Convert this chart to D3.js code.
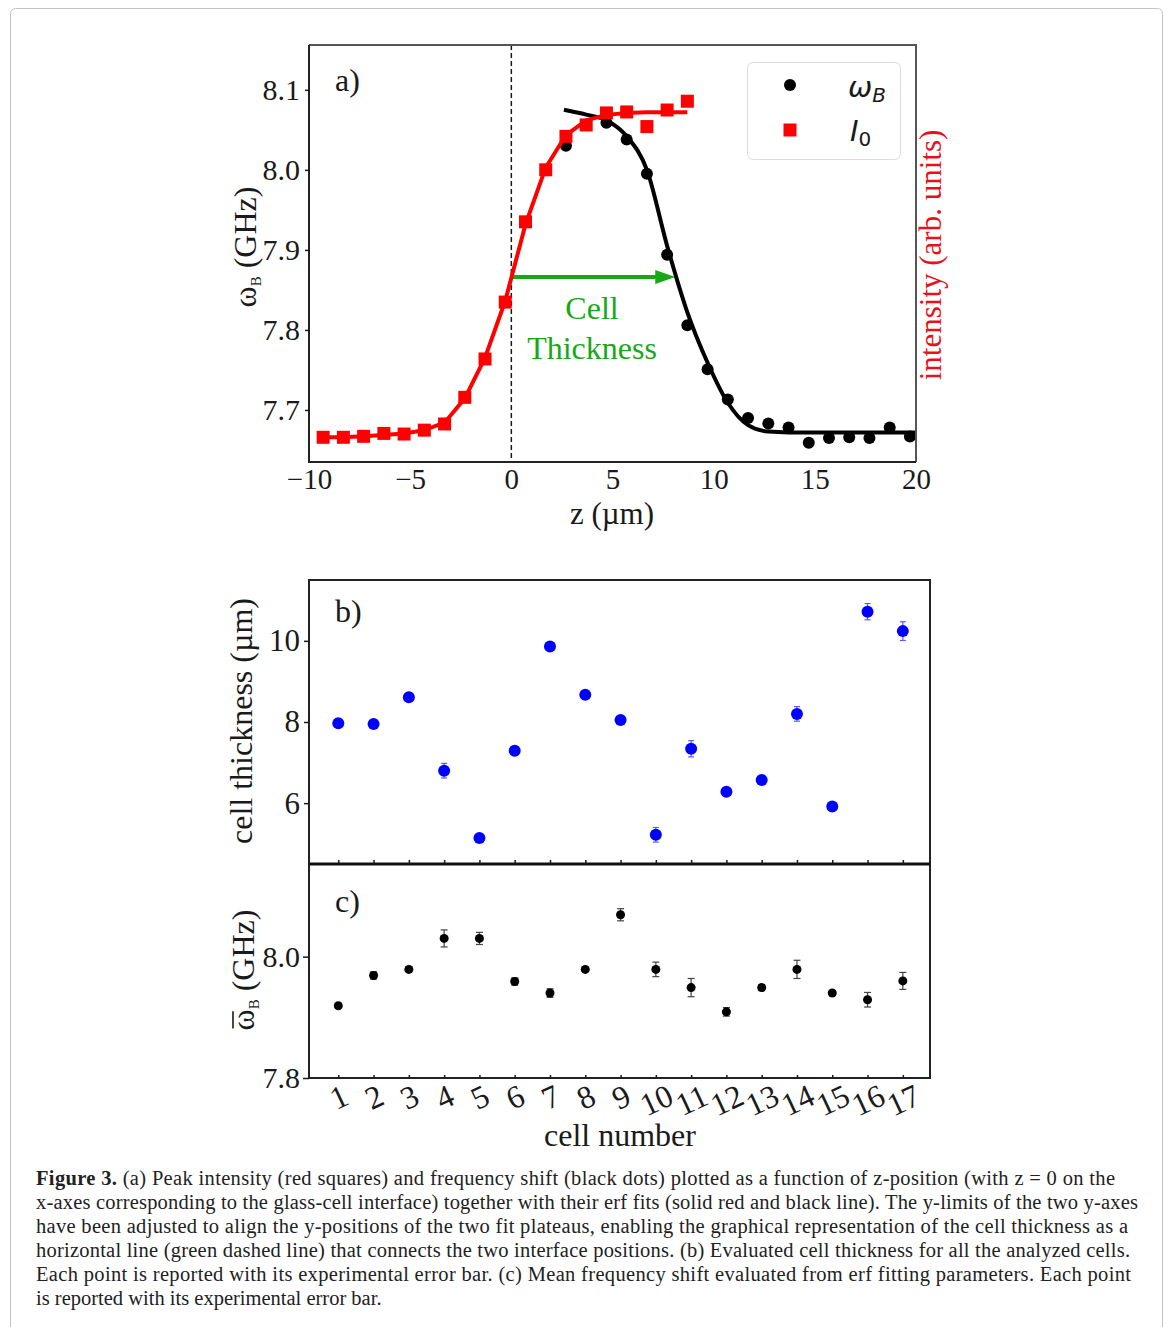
<!DOCTYPE html>
<html>
<head>
<meta charset="utf-8">
<script src="https://cdn.jsdelivr.net/npm/d3@7"></script>
<style>
body { margin: 0; background: #fff; }
svg { display: block; }
</style>
</head>
<body>
<div id="fig"></div>
<script>

// panel a: peak intensity (normalised, arb. units) vs z
var zIntensity = [-9.3, -8.3, -7.3, -6.3, -5.3, -4.3, -3.3, -2.3, -1.3, -0.3, 0.7, 1.7, 2.7, 3.7, 4.7, 5.7, 6.7, 7.7, 8.7];
var intensity = [0.0, 0.0, 0.003, 0.012, 0.01, 0.022, 0.041, 0.123, 0.241, 0.416, 0.663, 0.823, 0.926, 0.961, 0.998, 1.001, 0.956, 1.007, 1.034];
var intensityFit = [0.0, 0.0, 0.003, 0.007, 0.012, 0.022, 0.045, 0.12, 0.245, 0.42, 0.655, 0.83, 0.93, 0.975, 0.992, 0.998, 1.0, 1.0, 1.0];

// panel a: Brillouin shift vs z
var zOmega = [2.7, 4.7, 5.7, 6.7, 7.7, 8.7, 9.7, 10.7, 11.7, 12.7, 13.7, 14.7, 15.7, 16.7, 17.7, 18.7, 19.7];
var omegaB = [8.03, 8.059, 8.038, 7.995, 7.894, 7.806, 7.751, 7.713, 7.690, 7.683, 7.678, 7.659, 7.665, 7.666, 7.665, 7.678, 7.667];
var zOmegaFit = [2.6, 3.7, 4.7, 5.7, 6.7, 7.7, 8.7, 9.7, 10.7, 11.7, 12.7, 13.7, 15, 17, 20];
var omegaFit = [8.075, 8.069, 8.062, 8.042, 8.0, 7.905, 7.822, 7.759, 7.709, 7.681, 7.673, 7.672, 7.672, 7.672, 7.672];

// cell thickness arrow (from interface at z = 0 to second interface)
var thicknessArrow = {from: 0, to: 8.1, level: 7.866};

// panels b and c
var cells = [1, 2, 3, 4, 5, 6, 7, 8, 9, 10, 11, 12, 13, 14, 15, 16, 17];
var thickness = [7.97, 7.95, 8.61, 6.80, 5.14, 7.29, 9.86, 8.67, 8.05, 5.22, 7.34, 6.28, 6.57, 8.20, 5.92, 10.72, 10.24];
var thicknessErr = [0.08, 0.06, 0.08, 0.18, 0.08, 0.08, 0.1, 0.08, 0.08, 0.18, 0.2, 0.06, 0.08, 0.18, 0.06, 0.2, 0.23];
var meanOmega = [7.919, 7.969, 7.979, 8.030, 8.030, 7.959, 7.940, 7.979, 8.069, 7.979, 7.949, 7.909, 7.949, 7.979, 7.940, 7.929, 7.960];
var meanOmegaErr = [0.003, 0.006, 0.004, 0.014, 0.01, 0.006, 0.007, 0.003, 0.01, 0.012, 0.015, 0.007, 0.005, 0.015, 0.003, 0.012, 0.014];

var zTicks = [-10, -5, 0, 5, 10, 15, 20];
var omegaTicks = [7.7, 7.8, 7.9, 8.0, 8.1];
var thicknessTicks = [6, 8, 10];
var meanOmegaTicks = [7.8, 8.0];

var captionLines = [
	' (a) Peak intensity (red squares) and frequency shift (black dots) plotted as a function of z-position (with z = 0 on the',
	'x-axes corresponding to the glass-cell interface) together with their erf fits (solid red and black line). The y-limits of the two y-axes',
	'have been adjusted to align the y-positions of the two fit plateaus, enabling the graphical representation of the cell thickness as a',
	'horizontal line (green dashed line) that connects the two interface positions. (b) Evaluated cell thickness for all the analyzed cells.',
	'Each point is reported with its experimental error bar. (c) Mean frequency shift evaluated from erf fitting parameters. Each point',
	'is reported with its experimental error bar.'
];
var captionWidths = [1079, 1102, 1092, 1094, 1095, null];

var SERIF = '"Liberation Serif", "Times New Roman", serif',
	INK = '#1a1a1a',
	RED = '#ff0000',
	GREEN = '#17a817',
	BLUE = '#0000ff';

var svg = d3.select('#fig').append('svg')
	.attr('width', 1168)
	.attr('height', 1327);

svg.append('rect')
	.attr('width', 1168)
	.attr('height', 1327)
	.attr('fill', '#fff');

svg.append('rect')
	.attr('x', 10.5)
	.attr('y', 8.5)
	.attr('width', 1152)
	.attr('height', 1340)
	.attr('rx', 5)
	.attr('fill', 'none')
	.attr('stroke', '#c4c4c4');

function styleAxis(g, size) {
	g.select('.domain').remove();
	g.attr('font-family', SERIF)
		.attr('font-size', size);
	g.selectAll('text').attr('fill', INK);
	g.selectAll('line').attr('stroke', INK).attr('stroke-width', 1.5);
}

/* ---------- panel a ---------- */

var xA = d3.scaleLinear().domain([-10, 20]).range([309, 916]);
var yA = d3.scaleLinear().domain([7.635, 8.156]).range([462, 45]);
var yI = d3.scaleLinear().domain([-0.076, 1.207]).range([462, 45]);

var pa = svg.append('g');

pa.append('line')
	.attr('x1', xA(0)).attr('x2', xA(0))
	.attr('y1', 45).attr('y2', 462)
	.attr('stroke', INK)
	.attr('stroke-width', 1.5)
	.attr('stroke-dasharray', '5,3');

// green arrow
pa.append('line')
	.attr('x1', xA(thicknessArrow.from))
	.attr('x2', xA(thicknessArrow.to) - 16)
	.attr('y1', yA(thicknessArrow.level))
	.attr('y2', yA(thicknessArrow.level))
	.attr('stroke', GREEN)
	.attr('stroke-width', 4);
var tipX = xA(thicknessArrow.to), tipY = yA(thicknessArrow.level);
pa.append('path')
	.attr('d', 'M' + tipX + ',' + tipY + 'L' + (tipX - 20) + ',' + (tipY - 7) + 'L' + (tipX - 20) + ',' + (tipY + 7) + 'Z')
	.attr('fill', GREEN);

pa.append('text')
	.attr('x', 592).attr('y', 319)
	.attr('text-anchor', 'middle')
	.attr('font-family', SERIF)
	.attr('font-size', 32)
	.attr('fill', GREEN)
	.text('Cell');
pa.append('text')
	.attr('x', 592).attr('y', 359)
	.attr('text-anchor', 'middle')
	.attr('font-family', SERIF)
	.attr('font-size', 32)
	.attr('fill', GREEN)
	.text('Thickness');

// black fit and dots
var omegaFitData = zOmegaFit.map(function(z, i) { return [z, omegaFit[i]]; });
pa.append('path')
	.datum(omegaFitData)
	.attr('d', d3.line()
		.x(function(d) { return xA(d[0]); })
		.y(function(d) { return yA(d[1]); })
		.curve(d3.curveMonotoneX))
	.attr('fill', 'none')
	.attr('stroke', '#000')
	.attr('stroke-width', 4);

pa.selectAll('circle.omega')
	.data(zOmega.map(function(z, i) { return [z, omegaB[i]]; }))
	.enter()
	.append('circle')
	.classed('omega', true)
	.attr('cx', function(d) { return xA(d[0]); })
	.attr('cy', function(d) { return yA(d[1]); })
	.attr('r', 6)
	.attr('fill', '#000');

// red fit and squares
var intensityFitData = zIntensity.map(function(z, i) { return [z, intensityFit[i]]; });
pa.append('path')
	.datum(intensityFitData)
	.attr('d', d3.line()
		.x(function(d) { return xA(d[0]); })
		.y(function(d) { return yI(d[1]); }))
	.attr('fill', 'none')
	.attr('stroke', RED)
	.attr('stroke-width', 4);

pa.selectAll('rect.intensity')
	.data(zIntensity.map(function(z, i) { return [z, intensity[i]]; }))
	.enter()
	.append('rect')
	.classed('intensity', true)
	.attr('x', function(d) { return xA(d[0]) - 6.5; })
	.attr('y', function(d) { return yI(d[1]) - 6.5; })
	.attr('width', 13)
	.attr('height', 13)
	.attr('fill', RED);

// frame
pa.append('path')
	.attr('d', 'M309,45H916V462')
	.attr('fill', 'none')
	.attr('stroke', '#555')
	.attr('stroke-width', 2);
pa.append('path')
	.attr('d', 'M309,45V462H916')
	.attr('fill', 'none')
	.attr('stroke', '#222')
	.attr('stroke-width', 2);

pa.append('g')
	.attr('transform', 'translate(309,0)')
	.call(d3.axisLeft(yA).tickValues(omegaTicks).tickFormat(d3.format('.1f')).tickSize(4).tickPadding(5))
	.call(styleAxis, 30);

pa.append('g')
	.attr('transform', 'translate(0,462)')
	.call(d3.axisBottom(xA).tickValues(zTicks).tickFormat(d3.format('d')).tickSize(0).tickPadding(6))
	.call(styleAxis, 29);

pa.append('text')
	.attr('x', 335).attr('y', 91)
	.attr('font-family', SERIF)
	.attr('font-size', 32)
	.attr('fill', INK)
	.text('a)');

pa.append('text')
	.attr('x', 612).attr('y', 524)
	.attr('text-anchor', 'middle')
	.attr('font-family', SERIF)
	.attr('font-size', 31)
	.attr('fill', INK)
	.text('z (\u00b5m)');

var yLabA = pa.append('text')
	.attr('transform', 'translate(256,247) rotate(-90)')
	.attr('text-anchor', 'middle')
	.attr('font-family', SERIF)
	.attr('font-size', 32)
	.attr('fill', INK);
yLabA.append('tspan').text('\u03c9');
yLabA.append('tspan').attr('font-size', 15).attr('dy', 5).text('B');
yLabA.append('tspan').attr('dy', -5).text(' (GHz)');

pa.append('text')
	.attr('transform', 'translate(941,255) rotate(-90)')
	.attr('text-anchor', 'middle')
	.attr('font-family', SERIF)
	.attr('font-size', 31)
	.attr('fill', '#e8101a')
	.text('intensity (arb. units)');

// legend
var lg = pa.append('g');
lg.append('rect')
	.attr('x', 747.5).attr('y', 62.5)
	.attr('width', 153).attr('height', 97)
	.attr('rx', 6)
	.attr('fill', '#fff')
	.attr('fill-opacity', 0.8)
	.attr('stroke', '#dcdcdc');
lg.append('circle')
	.attr('cx', 790).attr('cy', 85)
	.attr('r', 6)
	.attr('fill', '#000');
lg.append('rect')
	.attr('x', 783.5).attr('y', 123.5)
	.attr('width', 13).attr('height', 13)
	.attr('fill', RED);
var l1 = lg.append('text')
	.attr('x', 848).attr('y', 97)
	.attr('font-family', '"DejaVu Sans", sans-serif')
	.attr('font-style', 'italic')
	.attr('font-size', 29)
	.attr('fill', INK);
l1.append('tspan').text('\u03c9');
l1.append('tspan').attr('font-size', 20).attr('dy', 5).text('B');
var l2 = lg.append('text')
	.attr('x', 850).attr('y', 141)
	.attr('font-family', '"DejaVu Sans", sans-serif')
	.attr('font-style', 'italic')
	.attr('font-size', 29)
	.attr('fill', INK);
l2.append('tspan').text('I');
l2.append('tspan').attr('font-size', 20).attr('font-style', 'normal').attr('dy', 5).text('0');

/* ---------- panels b and c ---------- */

var xB = d3.scaleLinear().domain([0.17, 17.77]).range([309, 930]);
var yB = d3.scaleLinear().domain([4.5, 11.5]).range([864, 580]);
var yC = d3.scaleLinear().domain([7.8, 8.151]).range([1078, 865]);

var pb = svg.append('g');

var bData = cells.map(function(c, i) { return {c: c, v: thickness[i], e: thicknessErr[i]}; });

pb.selectAll('g.errB')
	.data(bData)
	.enter()
	.append('g')
	.classed('errB', true)
	.each(function(d) {
		var g = d3.select(this), x = xB(d.c);
		g.append('line').attr('x1', x).attr('x2', x).attr('y1', yB(d.v - d.e)).attr('y2', yB(d.v + d.e));
		g.append('line').attr('x1', x - 3).attr('x2', x + 3).attr('y1', yB(d.v - d.e)).attr('y2', yB(d.v - d.e));
		g.append('line').attr('x1', x - 3).attr('x2', x + 3).attr('y1', yB(d.v + d.e)).attr('y2', yB(d.v + d.e));
	})
	.attr('stroke', '#5a5aff')
	.attr('stroke-width', 1.2);

pb.selectAll('circle.thick')
	.data(bData)
	.enter()
	.append('circle')
	.classed('thick', true)
	.attr('cx', function(d) { return xB(d.c); })
	.attr('cy', function(d) { return yB(d.v); })
	.attr('r', 6)
	.attr('fill', BLUE);

var cData = cells.map(function(c, i) { return {c: c, v: meanOmega[i], e: meanOmegaErr[i]}; });

pb.selectAll('g.errC')
	.data(cData)
	.enter()
	.append('g')
	.classed('errC', true)
	.each(function(d) {
		var g = d3.select(this), x = xB(d.c);
		g.append('line').attr('x1', x).attr('x2', x).attr('y1', yC(d.v - d.e)).attr('y2', yC(d.v + d.e));
		g.append('line').attr('x1', x - 3.5).attr('x2', x + 3.5).attr('y1', yC(d.v - d.e)).attr('y2', yC(d.v - d.e));
		g.append('line').attr('x1', x - 3.5).attr('x2', x + 3.5).attr('y1', yC(d.v + d.e)).attr('y2', yC(d.v + d.e));
	})
	.attr('stroke', '#444')
	.attr('stroke-width', 1.2);

pb.selectAll('circle.mean')
	.data(cData)
	.enter()
	.append('circle')
	.classed('mean', true)
	.attr('cx', function(d) { return xB(d.c); })
	.attr('cy', function(d) { return yC(d.v); })
	.attr('r', 4.5)
	.attr('fill', '#000');

// frames
pb.append('rect')
	.attr('x', 309).attr('y', 580)
	.attr('width', 621).attr('height', 284)
	.attr('fill', 'none')
	.attr('stroke', '#222')
	.attr('stroke-width', 2);
pb.append('rect')
	.attr('x', 309).attr('y', 864)
	.attr('width', 621).attr('height', 214)
	.attr('fill', 'none')
	.attr('stroke', '#222')
	.attr('stroke-width', 2);
pb.append('line')
	.attr('x1', 309).attr('x2', 930)
	.attr('y1', 864).attr('y2', 864)
	.attr('stroke', '#111')
	.attr('stroke-width', 3);

pb.append('g')
	.attr('transform', 'translate(309,0)')
	.call(d3.axisLeft(yB).tickValues(thicknessTicks).tickFormat(d3.format('d')).tickSize(5).tickPadding(4))
	.call(styleAxis, 31);

pb.append('g')
	.attr('transform', 'translate(0,864)')
	.call(d3.axisBottom(xB).tickValues(cells).tickSize(-4).tickFormat(''))
	.call(styleAxis, 30);

pb.append('g')
	.attr('transform', 'translate(309,0)')
	.call(d3.axisLeft(yC).tickValues(meanOmegaTicks).tickFormat(d3.format('.1f')).tickSize(6).tickPadding(3))
	.call(styleAxis, 30);

var xAxC = pb.append('g')
	.attr('transform', 'translate(0,1078)')
	.call(d3.axisBottom(xB).tickValues(cells).tickSize(-3).tickFormat(d3.format('d')))
	.call(styleAxis, 32);
xAxC.selectAll('.tick text')
	.attr('y', 0)
	.attr('dy', null)
	.attr('dominant-baseline', 'central')
	.attr('transform', function(d) { return 'translate(0,' + (d < 10 ? 19 : 22) + ') rotate(-25)'; });

pb.append('text')
	.attr('x', 335).attr('y', 622)
	.attr('font-family', SERIF)
	.attr('font-size', 32)
	.attr('fill', INK)
	.text('b)');
pb.append('text')
	.attr('x', 335).attr('y', 912)
	.attr('font-family', SERIF)
	.attr('font-size', 32)
	.attr('fill', INK)
	.text('c)');

pb.append('text')
	.attr('transform', 'translate(252,721) rotate(-90)')
	.attr('text-anchor', 'middle')
	.attr('font-family', SERIF)
	.attr('font-size', 32)
	.attr('fill', INK)
	.text('cell thickness (\u00b5m)');

var gLabC = pb.append('g')
	.attr('transform', 'translate(254,970) rotate(-90)');
var yLabC = gLabC.append('text')
	.attr('text-anchor', 'middle')
	.attr('font-family', SERIF)
	.attr('font-size', 32)
	.attr('fill', INK);
yLabC.append('tspan').text('\u03c9');
yLabC.append('tspan').attr('font-size', 15).attr('dy', 5).text('B');
yLabC.append('tspan').attr('dy', -5).text(' (GHz)');
// bar over omega
var omegaExt = yLabC.node().getExtentOfChar(0);
gLabC.append('line')
	.attr('x1', omegaExt.x + 2)
	.attr('x2', omegaExt.x + omegaExt.width - 2)
	.attr('y1', -21).attr('y2', -21)
	.attr('stroke', INK)
	.attr('stroke-width', 1.6);

pb.append('text')
	.attr('x', 620).attr('y', 1146)
	.attr('text-anchor', 'middle')
	.attr('font-family', SERIF)
	.attr('font-size', 32)
	.attr('fill', INK)
	.text('cell number');

/* ---------- caption ---------- */

var cap = svg.append('g')
	.attr('font-family', SERIF)
	.attr('font-size', 20.5)
	.attr('fill', '#222');

captionLines.forEach(function(line, i) {
	var t = cap.append('text')
		.attr('x', 36)
		.attr('y', 1185 + i * 24);
	if (captionWidths[i]) {
		t.attr('textLength', captionWidths[i]).attr('lengthAdjust', 'spacing');
	}
	if (i === 0) {
		t.append('tspan').attr('font-weight', 'bold').text('Figure 3.');
	}
	t.append('tspan').text(line);
});

</script>
</body>
</html>
